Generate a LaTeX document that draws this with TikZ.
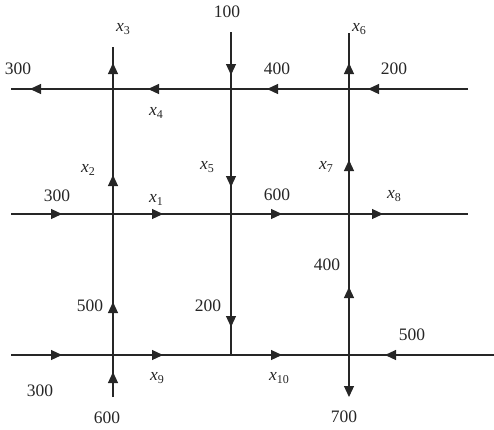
\documentclass[tikz,border=0pt]{standalone}
\usepackage{fontspec}
\setmainfont{Liberation Serif}
\usetikzlibrary{arrows.meta,decorations.markings}
\newcommand\xv[1]{\textit{x}\kern0.2pt\raisebox{-0.45ex}{\fontsize{12}{12}\selectfont #1}}
\tikzset{
  flow/.style={line width=1.2pt, draw=black!85},
  mk/.style={postaction={decorate,decoration={markings,
     mark=at position #1 with {\arrow{Triangle[length=11pt,width=10pt]}}}}},
  lab/.style={font=\fontsize{17.5}{17.5}\selectfont, inner sep=0pt, text=black!85},
}
\begin{document}
\begin{tikzpicture}[x=1pt,y=-1pt]
\useasboundingbox (0,0) rectangle (494,429);
% end points
\coordinate (t1) at (11,89);  \coordinate (t2) at (468,89);
\coordinate (m1) at (11,214); \coordinate (m2) at (468,214);
\coordinate (b1) at (11,355); \coordinate (b2) at (494,355);
\coordinate (a1) at (113,47); \coordinate (a2) at (113,397);
\coordinate (c1) at (231,32); \coordinate (c2) at (231,355);
\coordinate (d1) at (349,33); \coordinate (d2) at (349,397);
\coordinate (d0) at (349,355);
% streets
\draw[flow, mk=100pt, mk=201pt, mk=320pt, mk=438pt] (t2) -- (t1);
\draw[flow, mk=51pt, mk=152pt, mk=271pt, mk=372pt] (m1) -- (m2);
\draw[flow, mk=51pt, mk=152pt, mk=271pt] (b1) -- (d0);
\draw[flow, mk=109pt] (b2) -- (d0);
\draw[flow, mk=25pt, mk=95pt, mk=222pt, mk=334pt] (a2) -- (a1);
\draw[flow, mk=43pt, mk=155pt, mk=295pt] (c1) -- (c2);
\draw[flow, mk=68pt, mk=195pt, mk=292pt] (d0) -- (d1);
\draw[flow, -{Triangle[length=11pt,width=10pt]}] (d0) -- (d2);
% labels
\node[lab] (lx3) at (123,29) {\xv{3}};
\node[lab] (l100) at (227,12) {100};
\node[lab] (l300a) at (18,69) {300};
\node[lab] (lx4) at (156,113) {\xv{4}};
\node[lab] (lx2) at (88,170) {\xv{2}};
\node[lab] (lx5) at (207,167) {\xv{5}};
\node[lab] (l300b) at (57,196) {300};
\node[lab] (lx1) at (156,200) {\xv{1}};
\node[lab] (lx6) at (359,29) {\xv{6}};
\node[lab] (l400a) at (277,69) {400};
\node[lab] (l200a) at (394,69) {200};
\node[lab] (lx7) at (326,167) {\xv{7}};
\node[lab] (l600a) at (277,195) {600};
\node[lab] (lx8) at (394,196) {\xv{8}};
\node[lab] (l500a) at (90,306) {500};
\node[lab] (l200b) at (208,306) {200};
\node[lab] (l300c) at (40,391) {300};
\node[lab] (lx9) at (157,378) {\xv{9}};
\node[lab] (l600b) at (107,418) {600};
\node[lab] (l400b) at (327,265) {400};
\node[lab] (l500b) at (412,335) {500};
\node[lab] (lx10) at (279,378) {\xv{10}};
\node[lab] (l700) at (344,417) {700};
\end{tikzpicture}
\end{document}
